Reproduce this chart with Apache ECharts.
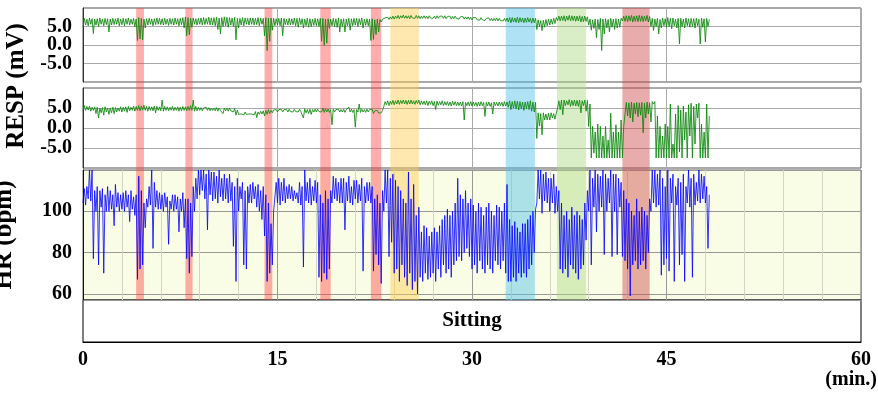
<!DOCTYPE html>
<html>
<head>
<meta charset="utf-8">
<title>RESP / HR</title>
<script src="https://cdn.jsdelivr.net/npm/echarts@6/dist/echarts.min.js"></script>
<style>html,body{margin:0;padding:0;background:#fff}#main{width:878px;height:397px}</style>
</head>
<body>
<div id="main"></div>
<script type="text/javascript">
// signals read as low / high envelope in bins of 0.2 min
var STEP = 0.2;

// RESP, upper trace (mV)
var resp1Lo = [
  4.8,5.4,5.2,5.6,3.1, 5.4,5.0,5.6,5.2,5.5, 3.5,5.4,5.5,5.6,5.2, 5.5,5.2,5.6,5.4,5.6, 5.0,1.2,1.6,1.4,4.6,
  5.4,5.6,5.2,5.5,5.6, 5.5,5.4,5.6,5.3,5.6, 5.4,5.6,5.2,5.5,4.6, 2.5,2.8,4.8,5.6,5.4, 5.6,5.4,5.5,5.6,5.4,
  5.4,5.2,4.2,3.0,5.0, 5.2,4.8,5.4,5.0,1.4, 4.6,5.4,5.2,5.6,5.4, 5.6,5.4,5.5,5.2,5.6, 2.5,-1.5,1.0,4.0,5.2,
  5.4,5.2,2.5,5.5,5.4, 5.4,5.5,5.2,4.8,5.5, 4.6,5.2,4.8,5.0,5.3, 5.2,5.0,1.0,-0.1,0.5, 4.5,5.2,5.0,4.8,3.5,
  5.0,3.5,5.2,4.0,5.2, 5.4,5.0,5.5,4.6,5.3, 5.2,1.2,1.5,2.8,3.5, 6.2,6.6,6.8,6.9,7.0, 7.0,7.2,7.1,7.3,7.2,
  7.2,7.1,7.3,7.2,7.2, 7.1,7.2,7.2,7.1,7.3, 7.2,7.1,7.2,7.3,7.2, 7.1,7.2,7.0,7.1,7.2, 7.0,7.1,7.0,7.0,6.9,
  6.8,6.9,6.8,6.7,6.8, 6.6,6.7,6.6,6.5,6.6, 6.5,6.6,6.5,6.4,6.2, 6.0,6.2,6.1,6.0,6.2, 6.0,6.1,6.2,5.9,6.0,
  4.2,5.0,3.9,4.8,5.2, 5.4,5.6,5.8,6.6,6.5, 6.6,6.4,6.7,6.5,6.6, 6.4,6.5,6.2,6.3,6.4, 5.4,4.0,4.5,2.0,4.2,
  -1.5,3.0,4.6,3.5,4.8, 4.2,4.6,4.8,6.5,6.4, 6.3,6.5,6.2,6.4,6.3, 6.4,6.3,6.5,6.2,5.0, 3.9,5.0,3.0,4.6,5.2,
  4.8,5.0,4.4,5.2,4.6, 0.3,5.0,4.6,5.2,4.8, 5.0,4.6,5.2,0.3,4.8, 0.8,5.0
];
var resp1Hi = [
  7.2,7.0,7.3,7.1,7.0, 7.1,7.3,7.0,7.2,7.1, 7.0,7.2,7.1,7.3,7.0, 7.2,7.1,7.3,7.0,7.2, 7.0,7.4,7.2,7.0,7.1,
  7.2,7.0,7.1,7.3,7.2, 7.1,7.2,7.0,7.2,7.1, 7.3,7.1,7.2,7.4,7.6, 7.4,7.2,7.3,7.1,7.2, 7.3,7.4,7.2,7.5,7.3,
  7.4,7.5,7.3,7.4,7.6, 7.5,7.4,7.3,7.5,7.2, 7.2,7.4,7.3,7.2,7.3, 7.3,7.2,7.4,7.3,7.2, 7.4,7.2,7.3,7.2,7.1,
  7.2,7.3,7.2,7.0,7.2, 7.1,7.3,7.2,7.3,7.1, 7.0,7.2,7.1,7.0,7.2, 7.1,7.2,7.2,7.0,7.1, 7.0,7.2,7.1,7.3,7.0,
  7.1,7.0,7.2,7.1,7.2, 7.2,7.1,7.3,7.0,7.1, 7.0,7.1,6.8,7.0,6.9, 7.0,7.3,7.5,7.6,7.8, 7.8,8.0,7.9,8.1,7.9,
  7.9,8.0,7.8,8.0,7.9, 7.8,7.9,7.8,7.9,7.8, 7.8,7.9,7.8,7.8,7.9, 7.7,7.8,7.7,7.8,7.7, 7.6,7.7,7.6,7.6,7.5,
  7.4,7.4,7.3,7.4,7.3, 7.2,7.3,7.2,7.2,7.3, 7.2,7.1,7.2,7.3,7.4, 7.4,7.3,7.5,7.4,7.3, 7.3,7.4,7.2,7.3,7.2,
  6.8,6.6,6.7,6.9,7.0, 7.0,7.2,7.4,7.8,7.8, 7.9,7.8,8.0,7.9,7.8, 7.8,7.9,7.7,7.8,7.6, 7.0,6.8,7.0,6.9,7.2,
  7.0,7.1,6.9,7.2,7.0, 7.1,7.0,7.2,7.8,7.9, 7.9,8.0,7.8,7.9,8.0, 7.9,7.8,8.0,7.7,7.2, 7.0,7.2,6.9,7.3,7.1,
  7.4,7.2,7.3,7.0,7.2, 7.2,7.0,7.3,7.1,7.2, 7.1,7.2,7.0,7.3,7.1, 7.2,6.9
];

// RESP, lower trace (mV)
var resp2Lo = [
  4.6,4.4,4.5,4.2,4.4, 3.6,2.5,3.8,3.2,4.0, 3.4,3.8,3.6,4.0,4.2, 4.0,4.2,3.9,4.3,4.4, 4.2,4.4,4.3,4.5,4.4,
  4.2,4.4,4.3,3.8,4.4, 4.3,4.2,4.4,4.3,4.4, 4.3,4.4,4.2,4.3,4.4, 4.3,4.4,4.4,4.2,4.3, 4.4,4.3,4.5,4.4,4.3,
  4.4,4.3,4.2,4.4,3.6, 4.3,4.2,4.3,4.0,3.2, 3.4,3.5,3.3,3.4,3.5, 3.5,3.3,2.6,3.4,3.5, 3.0,3.4,3.6,3.8,4.0,
  4.0,4.1,4.0,4.1,4.0, 4.1,4.0,4.1,4.0,4.1, 2.5,3.8,3.6,3.4,4.0, 4.0,4.1,4.0,3.9,4.0, 3.9,0.8,4.0,4.1,4.0,
  4.0,3.9,4.1,4.0,3.9, 0.2,4.0,3.9,4.0,3.9, 4.0,4.1,3.6,3.8,3.7, 3.8,5.4,5.8,5.6,5.9, 5.8,6.0,5.9,6.1,6.0,
  5.9,6.0,6.0,5.9,6.1, 5.8,5.9,5.8,5.6,5.9, 5.6,4.6,5.7,5.8,5.6, 5.7,5.6,5.5,5.7,5.6, 5.6,5.5,2.0,5.6,5.5,
  5.5,5.6,5.4,5.5,5.6, 2.9,5.5,5.4,3.5,5.6, 5.5,5.6,5.4,5.5,5.2, 4.6,5.0,4.8,4.5,4.8, 4.4,4.8,4.6,4.2,4.0,
  -2.6,0.5,-1.7,2.0,2.0, 2.0,2.5,2.2,5.0,4.6, 3.3,5.6,5.8,5.4,5.6, 5.5,5.4,3.8,5.6,4.2, 0.4,-7.5,-6.3,-7.5,-7.5,
  -7.5,-7.5,-7.5,-7.5,-7.5, -7.5,-7.5,-7.5,-7.5,3.5, 3.0,2.5,1.5,3.5,2.8, 3.2,-1.2,2.5,3.5,1.5, 6.0,-7.5,-7.5,-7.5,-7.5,
  -7.5,-7.5,-7.5,-7.5,-7.5, -6.0,-7.5,-3.0,-7.5,-2.0, -7.5,-4.0,2.5,-7.5,-7.5, -7.5,-7.5
];
var resp2Hi = [
  5.6,5.4,5.5,5.2,5.3, 5.2,5.0,5.1,5.3,5.0, 5.0,5.2,5.1,5.0,5.3, 5.2,5.3,5.4,5.2,5.5, 5.4,5.6,5.5,5.7,5.4,
  5.4,5.3,5.5,5.4,5.3, 7.0,5.4,5.3,5.2,5.4, 5.2,5.3,5.2,5.4,5.3, 5.4,5.6,7.0,5.4,5.2, 5.1,5.0,5.2,5.1,5.0,
  5.0,5.1,5.0,4.9,5.0, 4.9,5.0,4.8,4.9,4.5, 3.9,4.0,4.0,3.9,4.0, 4.0,4.1,4.0,4.2,4.3, 4.4,4.6,4.4,4.5,4.6,
  4.6,4.7,4.6,4.6,4.7, 4.6,4.7,4.6,4.7,4.6, 4.8,4.6,4.7,4.6,4.7, 4.7,4.6,5.0,4.8,4.7, 4.6,4.7,4.6,4.7,4.6,
  4.7,4.6,5.2,4.7,4.6, 4.6,6.0,4.7,4.6,4.7, 4.6,4.7,4.3,4.4,4.2, 4.4,6.6,6.8,6.7,6.9, 6.8,7.0,6.9,7.0,6.9,
  6.9,7.0,6.8,6.9,7.0, 6.8,6.7,6.8,6.7,6.8, 6.6,6.7,6.6,6.8,6.6, 6.6,6.5,6.7,6.6,6.5, 6.5,6.6,6.4,6.5,6.6,
  6.5,6.4,6.5,6.6,6.4, 6.4,6.5,6.3,6.5,6.4, 6.5,6.4,6.6,6.5,6.8, 6.6,6.8,6.7,6.6,6.5, 6.5,6.6,6.8,6.5,6.4,
  3.8,3.6,3.8,3.5,3.7, 3.8,3.6,3.7,6.8,7.0, 7.0,6.8,7.1,6.9,7.0, 6.9,7.0,6.8,7.0,6.9, 6.0,0.4,-1.0,1.0,0.4,
  -2.0,0.4,-3.0,3.7,-1.0, 0.8,-1.0,2.0,0.4,6.4, 6.3,6.5,6.2,6.4,6.3, 6.4,6.2,6.5,6.3,6.6, 6.6,3.0,0.4,-2.0,1.0,
  0.4,6.0,-4.0,3.5,5.6, 4.5,5.5,4.0,5.8,6.2, 5.4,6.0,6.2,1.0,-1.0, 6.0,3.0
];

// heart rate (bpm)
var hrLo = [
  104,103,106,105,77, 100,74,102,70,100, 100,101,93,102,100, 101,100,102,95,101, 98,67,72,74,92,
  102,103,82,102,101, 101,100,102,84,101, 100,101,90,100,92, 77,70,78,100,106, 108,110,106,91,108,
  105,106,104,107,105, 106,104,105,83,66, 100,106,74,72,104, 104,106,102,100,96, 88,66,70,74,100,
  104,103,105,104,106, 106,105,106,104,103, 73,105,104,103,105, 104,68,66,70,67, 72,104,106,105,104,
  104,91,105,104,103, 106,104,105,71,104, 105,104,71,79,74, 65,100,104,78,85, 70,72,66,74,68,
  64,70,62,66,60, 68,66,70,67,68, 70,66,72,68,74, 70,72,68,74,76, 78,76,80,82,78,
  72,74,70,76,72, 70,74,72,70,76, 74,72,76,70,66, 66,68,66,70,68, 70,68,72,74,80,
  104,106,99,105,104, 100,104,99,100,72, 70,72,68,74,72, 70,67,72,74,86, 100,74,102,90,100,
  102,79,100,104,78, 100,79,102,78,76, 72,59,74,76,72, 74,76,72,80,100, 104,102,103,69,74,
  77,71,104,66,103, 74,79,66,104,102, 68,103,105,104,106, 104,82
];
var hrHi = [
  111,112,120,120,110, 112,110,111,108,112, 110,108,113,109,108, 109,110,108,110,107, 108,117,110,104,106,
  112,120,114,110,109, 108,109,107,105,108, 108,107,106,109,106, 106,104,112,116,120, 120,120,118,120,119,
  119,117,120,116,118, 116,118,114,112,116, 112,114,110,112,113, 114,112,113,110,112, 108,104,94,100,114,
  116,114,116,112,113, 112,110,109,114,112, 120,114,116,112,115, 114,108,104,110,106, 110,117,116,114,116,
  116,114,117,112,115, 115,113,116,112,114, 114,112,106,108,104, 110,120,120,116,118, 115,112,110,106,104,
  119,106,113,98,102, 90,93,92,88,90, 92,90,93,96,98, 101,98,100,104,116, 108,106,110,104,106,
  103,100,104,102,98, 102,104,100,98,103, 102,100,104,113,96, 93,95,92,90,94, 94,96,98,100,101,
  120,120,118,119,116, 116,118,112,110,104, 98,100,96,102,98, 100,98,96,104,110, 120,116,120,118,117,
  120,118,116,120,118, 118,116,114,110,106, 104,100,98,106,100, 102,100,98,106,120, 120,118,120,116,112,
  120,116,118,112,116, 114,118,112,120,116, 118,114,120,118,117, 112,108
];

// marked episodes (min)
var bandStart = [4.1, 7.9, 14.0, 18.3, 22.2, 23.7, 32.6, 36.55, 41.6];
var bandEnd   = [4.7, 8.45, 14.6, 19.1, 23.0, 25.9, 34.85, 38.8, 43.7];
var bandColor = ['rgba(255,60,60,0.42)', 'rgba(255,60,60,0.42)', 'rgba(255,60,60,0.42)', 'rgba(255,60,60,0.42)',
                 'rgba(255,60,60,0.42)', 'rgba(252,205,80,0.45)', 'rgba(80,190,235,0.45)',
                 'rgba(170,215,130,0.45)', 'rgba(205,70,70,0.45)'];

// activity strip
var actName = ['Sitting'];
var actStart = [0];
var actEnd = [60];

var xTicks = [0, 15, 30, 45, 60];

// low, high, low, high ... so the trace fills each bin like the raw signal does
function envelope(lo, hi) {
    var out = [];
    for (var i = 0; i < lo.length; i++) {
        var t = i * STEP;
        out.push([+t.toFixed(2), lo[i]]);
        out.push([+(t + STEP / 2).toFixed(2), hi[i]]);
    }
    return out;
}

var FONT = 'Liberation Serif';
var lbl = { color: '#000', fontFamily: FONT, fontWeight: 'bold', fontSize: 20 };

var bands = bandStart.map(function (s, i) {
    return [{ xAxis: s, itemStyle: { color: bandColor[i] } }, { xAxis: bandEnd[i] }];
});
var acts = actName.map(function (n, i) {
    return [{ xAxis: actStart[i], name: n }, { xAxis: actEnd[i] }];
});

function respX(idx) {
    return {
        gridIndex: idx, type: 'value', min: 0, max: 60, interval: 15,
        axisLine: { show: false }, axisTick: { show: false }, axisLabel: { show: false },
        splitLine: { lineStyle: { color: '#aaa' } }
    };
}
function respY(idx) {
    return {
        gridIndex: idx, type: 'value', min: -10, max: 10, interval: 5,
        axisLine: { show: true, lineStyle: { color: '#333' } }, axisTick: { show: false },
        axisLabel: Object.assign({ margin: 11, showMinLabel: false, showMaxLabel: false,
            formatter: function (v) { return v.toFixed(1); } }, lbl),
        splitLine: { lineStyle: { color: '#aaa' } }
    };
}
function panel(top, height, bg, border) {
    return { left: 83, top: top, width: 778, height: height, show: true,
             backgroundColor: bg, borderColor: border, outerBoundsMode: 'none' };
}

var myChart = echarts.init(document.getElementById('main'));
myChart.setOption({
    animation: false,
    graphic: [{
        type: 'text', x: 17, y: 86, rotation: Math.PI / 2,
        style: { text: 'RESP (mV)', fill: '#000', font: 'bold 25px "Liberation Serif"', align: 'center', verticalAlign: 'middle' }
    }],
    grid: [
        panel(8, 74, '#fff', '#555'),
        panel(88, 80, '#fff', '#555'),
        panel(170, 130, '#fafde5', '#666'),
        panel(300, 42, '#fff', '#000'),
        { left: 83, top: 8, width: 778, height: 292, outerBoundsMode: 'none' }
    ],
    xAxis: [
        respX(0), respX(1),
        {
            gridIndex: 2, type: 'value', min: 0, max: 60, interval: 15,
            axisLine: { show: false }, axisTick: { show: false }, axisLabel: { show: false },
            splitLine: { lineStyle: { color: '#999' } },
            minorTick: { show: true, splitNumber: 5, length: 0 },
            minorSplitLine: { show: true, lineStyle: { color: '#d4d6c4' } }
        },
        {
            gridIndex: 3, type: 'value', min: 0, max: 60, interval: 15,
            name: '(min.)', nameLocation: 'end', nameGap: 16,
            nameTextStyle: Object.assign({ align: 'right', verticalAlign: 'top', padding: [28, 0, 0, 0] }, lbl),
            axisLine: { show: true, lineStyle: { color: '#000' } }, axisTick: { show: false },
            axisLabel: Object.assign({ margin: 8,
                formatter: function (v) { return xTicks.indexOf(v) >= 0 ? String(v) : ''; } }, lbl),
            splitLine: { show: false }
        },
        { gridIndex: 4, type: 'value', min: 0, max: 60, show: false }
    ],
    yAxis: [
        respY(0), respY(1),
        {
            gridIndex: 2, type: 'value', min: 57, max: 120, splitNumber: 3,
            name: 'HR (bpm)', nameLocation: 'middle', nameGap: 66,
            nameTextStyle: Object.assign({}, lbl, { fontSize: 25 }),
            axisLine: { show: true, lineStyle: { color: '#000080' } }, axisTick: { show: false },
            axisLabel: Object.assign({ margin: 11, showMinLabel: false, showMaxLabel: false }, lbl),
            splitLine: { lineStyle: { color: '#999' } }
        },
        { gridIndex: 3, type: 'value', min: 0, max: 1, show: false },
        { gridIndex: 4, type: 'value', min: 0, max: 1, show: false }
    ],
    series: [
        {
            name: 'RESP 1', type: 'line', xAxisIndex: 0, yAxisIndex: 0, data: envelope(resp1Lo, resp1Hi),
            showSymbol: false, lineStyle: { color: '#0a870a', width: 1, opacity: 0.85 }
        },
        {
            name: 'RESP 2', type: 'line', xAxisIndex: 1, yAxisIndex: 1, data: envelope(resp2Lo, resp2Hi),
            showSymbol: false, lineStyle: { color: '#0a870a', width: 1, opacity: 0.85 }
        },
        {
            name: 'HR', type: 'line', xAxisIndex: 2, yAxisIndex: 2, data: envelope(hrLo, hrHi),
            showSymbol: false, lineStyle: { color: '#0000ff', width: 1, opacity: 0.8 }
        },
        {
            name: 'activity', type: 'line', xAxisIndex: 3, yAxisIndex: 3, data: [],
            markArea: {
                silent: true,
                itemStyle: { color: 'rgba(0,0,0,0)' },
                label: Object.assign({ position: 'inside' }, lbl, { fontSize: 21 }),
                data: acts
            }
        },
        {
            name: 'episodes', type: 'line', xAxisIndex: 4, yAxisIndex: 4, data: [], z: 10,
            markArea: { silent: true, data: bands }
        }
    ]
});
</script>
</body>
</html>
